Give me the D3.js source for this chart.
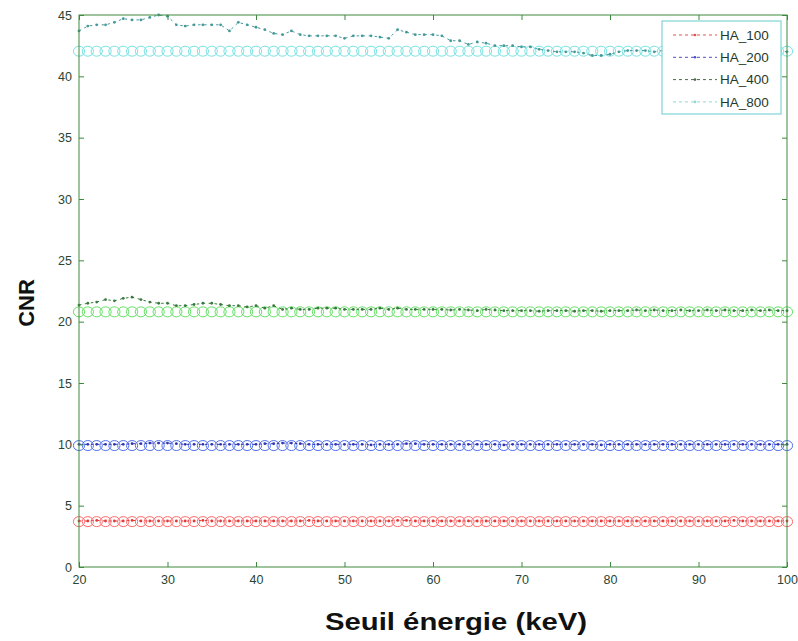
<!DOCTYPE html>
<html>
<head>
<meta charset="utf-8">
<script src="https://cdn.jsdelivr.net/npm/d3@7"></script>
<style>
  html, body { margin: 0; padding: 0; background: #fff; }
  svg { display: block; }
</style>
</head>
<body>
<svg id="chart" width="798" height="641"></svg>
<script>
// ---------------- DATA ----------------
const energies = [20,21,22,23,24,25,26,27,28,29,30,31,32,33,34,35,36,37,38,39,40,41,42,43,44,45,46,47,48,49,50,51,52,53,54,55,56,57,58,59,60,61,62,63,64,65,66,67,68,69,70,71,72,73,74,75,76,77,78,79,80,81,82,83,84,85,86,87,88,89,90,91,92,93,94,95,96,97,98,99,100];

// measured (dashed line with dots)
const ha800Line = [43.7,44.1,44.2,44.2,44.4,44.7,44.6,44.6,44.8,45.0,44.9,44.2,44.1,44.2,44.2,44.2,44.2,43.7,44.4,44.2,44.0,43.8,43.5,43.4,43.7,43.4,43.3,43.3,43.3,43.3,43.1,43.3,43.3,43.3,43.2,43.1,43.8,43.6,43.4,43.4,43.4,43.3,42.9,42.9,42.6,42.8,42.7,42.5,42.5,42.5,42.4,42.4,42.2,42.1,42.0,42.0,42.0,41.9,41.7,41.7,41.8,42.0,42.1,42.1,42.1,42.0,42.1,42.0,42.1,42.0,42.1,42.0,42.0,42.1,42.0,42.0,42.1,42.0,42.0,42.1,42.0];
const ha400Line = [21.35,21.5,21.6,21.8,21.7,21.9,22.0,21.8,21.6,21.5,21.5,21.3,21.3,21.4,21.5,21.5,21.4,21.3,21.3,21.2,21.3,21.1,21.3,21.0,21.1,21.0,21.0,21.1,21.1,21.1,21.0,21.0,21.0,21.0,21.1,21.0,21.1,21.0,21.0,21.0,21.0,21.0,20.95,21.0,20.95,20.9,21.0,20.95,20.9,20.9,20.9,20.9,20.85,20.9,20.9,20.9,20.85,20.9,20.9,20.85,20.9,20.9,20.9,20.95,20.9,20.95,20.9,20.9,20.95,20.9,20.9,20.95,20.9,20.95,20.9,20.9,20.95,20.9,20.95,20.9,20.9];
const ha200Line = [10.0,10.0,10.0,10.0,10.0,10.0,10.05,10.05,10.1,10.1,10.1,10.05,10.0,10.0,10.0,10.0,10.0,10.0,10.0,10.0,10.0,10.05,10.05,10.1,10.1,10.05,10.0,10.0,10.0,10.0,10.0,10.0,10.0,9.95,10.0,10.0,10.0,10.05,10.05,10.0,10.0,10.0,10.0,10.0,10.0,10.0,10.0,10.0,9.95,10.0,10.0,10.0,10.0,10.0,10.0,10.0,10.0,10.0,10.0,9.95,10.0,10.0,10.0,10.0,10.0,10.0,10.0,10.0,10.0,10.0,10.0,10.0,10.0,10.0,10.0,10.0,10.0,10.0,10.0,10.0,10.0];
const ha100Line = [3.75,3.75,3.8,3.75,3.75,3.75,3.8,3.75,3.75,3.75,3.75,3.75,3.75,3.75,3.8,3.75,3.75,3.75,3.75,3.75,3.75,3.75,3.75,3.75,3.75,3.75,3.8,3.75,3.75,3.75,3.75,3.75,3.75,3.75,3.75,3.75,3.8,3.8,3.75,3.75,3.75,3.75,3.75,3.75,3.75,3.75,3.75,3.75,3.75,3.75,3.75,3.75,3.75,3.75,3.75,3.75,3.75,3.75,3.75,3.75,3.75,3.75,3.75,3.75,3.75,3.75,3.75,3.75,3.75,3.75,3.75,3.75,3.75,3.75,3.8,3.75,3.75,3.75,3.75,3.75,3.75];

// simulated (open circles)
const ha800Circ = [42.05,42.05,42.05,42.05,42.05,42.05,42.05,42.05,42.05,42.05,42.05,42.05,42.05,42.05,42.05,42.05,42.05,42.05,42.05,42.05,42.05,42.05,42.05,42.05,42.05,42.05,42.05,42.05,42.05,42.05,42.05,42.05,42.05,42.05,42.05,42.05,42.05,42.05,42.05,42.05,42.05,42.05,42.05,42.05,42.05,42.05,42.05,42.05,42.05,42.05,42.05,42.05,42.05,42.05,42.05,42.05,42.05,42.05,42.05,42.05,42.05,42.05,42.05,42.05,42.05,42.05,42.05,42.05,42.05,42.05,42.05,42.05,42.05,42.05,42.05,42.05,42.05,42.05,42.05,42.05,42.05];
const ha400Circ = [20.8,20.8,20.8,20.8,20.8,20.8,20.8,20.8,20.8,20.8,20.8,20.8,20.8,20.8,20.8,20.8,20.8,20.8,20.8,20.8,20.8,20.8,20.8,20.8,20.8,20.8,20.8,20.8,20.8,20.8,20.8,20.8,20.8,20.8,20.8,20.8,20.8,20.8,20.8,20.8,20.8,20.8,20.8,20.8,20.8,20.8,20.8,20.8,20.8,20.8,20.8,20.8,20.8,20.8,20.8,20.8,20.8,20.8,20.8,20.8,20.8,20.8,20.8,20.8,20.8,20.8,20.8,20.8,20.8,20.8,20.8,20.8,20.8,20.8,20.8,20.8,20.8,20.8,20.8,20.8,20.8];
const ha200Circ = [9.9,9.9,9.9,9.9,9.9,9.9,9.9,9.9,9.9,9.9,9.9,9.9,9.9,9.9,9.9,9.9,9.9,9.9,9.9,9.9,9.9,9.9,9.9,9.9,9.9,9.9,9.9,9.9,9.9,9.9,9.9,9.9,9.9,9.9,9.9,9.9,9.9,9.9,9.9,9.9,9.9,9.9,9.9,9.9,9.9,9.9,9.9,9.9,9.9,9.9,9.9,9.9,9.9,9.9,9.9,9.9,9.9,9.9,9.9,9.9,9.9,9.9,9.9,9.9,9.9,9.9,9.9,9.9,9.9,9.9,9.9,9.9,9.9,9.9,9.9,9.9,9.9,9.9,9.9,9.9,9.9];
const ha100Circ = [3.7,3.7,3.7,3.7,3.7,3.7,3.7,3.7,3.7,3.7,3.7,3.7,3.7,3.7,3.7,3.7,3.7,3.7,3.7,3.7,3.7,3.7,3.7,3.7,3.7,3.7,3.7,3.7,3.7,3.7,3.7,3.7,3.7,3.7,3.7,3.7,3.7,3.7,3.7,3.7,3.7,3.7,3.7,3.7,3.7,3.7,3.7,3.7,3.7,3.7,3.7,3.7,3.7,3.7,3.7,3.7,3.7,3.7,3.7,3.7,3.7,3.7,3.7,3.7,3.7,3.7,3.7,3.7,3.7,3.7,3.7,3.7,3.7,3.7,3.7,3.7,3.7,3.7,3.7,3.7,3.7];

const seriesNames = ["HA_100","HA_200","HA_400","HA_800"];
const xTicks = [20,30,40,50,60,70,80,90,100];
const yTicks = [0,5,10,15,20,25,30,35,40,45];
const xTitle = "Seuil énergie (keV)";
const yTitle = "CNR";

// ---------------- STYLES ----------------
const lineColors   = {HA_100:"#e03a3a", HA_200:"#3434b0", HA_400:"#387a3e", HA_800:"#45999a"};
const circColors   = {HA_100:"#ff6a6a", HA_200:"#5070ec", HA_400:"#66e066", HA_800:"#78e2e2"};
const legendColors = {HA_100:"#e85050", HA_200:"#5050c8", HA_400:"#4a6a4a", HA_800:"#90d8d8"};
const frameColor = "#3f8a3f";
const textColor = "#2a4535";

const lineData = {HA_100:ha100Line, HA_200:ha200Line, HA_400:ha400Line, HA_800:ha800Line};
const circData = {HA_100:ha100Circ, HA_200:ha200Circ, HA_400:ha400Circ, HA_800:ha800Circ};

// ---------------- CHART ----------------
const svg = d3.select("#chart");
const L = 79, R = 787, T = 15, B = 567;
const x = d3.scaleLinear().domain([20,100]).range([L,R]);
const y = d3.scaleLinear().domain([0,45]).range([B,T]);

const plot = svg.append("g");

// circles (behind)
["HA_800","HA_400","HA_200","HA_100"].forEach(name => {
  plot.append("g").selectAll("ellipse")
    .data(energies.map((e,i)=>[e, circData[name][i]]))
    .join("ellipse")
    .attr("cx", d=>x(d[0])).attr("cy", d=>y(d[1]))
    .attr("rx", 5.6).attr("ry", 5.0)
    .attr("fill","none")
    .attr("stroke", circColors[name])
    .attr("stroke-width", 1);
});

// dashed lines with dots
const lineGen = d3.line().x(d=>x(d[0])).y(d=>y(d[1]));
["HA_800","HA_400","HA_200","HA_100"].forEach(name => {
  const pts = energies.map((e,i)=>[e, lineData[name][i]]);
  plot.append("path")
    .datum(pts)
    .attr("d", lineGen)
    .attr("fill","none")
    .attr("stroke", lineColors[name])
    .attr("stroke-width", 1)
    .attr("stroke-dasharray","2.5,3.5");
  plot.append("g").selectAll("circle")
    .data(pts)
    .join("circle")
    .attr("cx", d=>x(d[0])).attr("cy", d=>y(d[1]))
    .attr("r", 1.4)
    .attr("fill", lineColors[name]);
});

// axes (MATLAB style inward ticks)
function styleAxis(g){
  g.select(".domain").remove();
  g.selectAll(".tick line").attr("stroke", frameColor);
  g.selectAll(".tick text").attr("fill", textColor)
    .attr("font-family","Liberation Sans, Arial, sans-serif")
    .attr("font-size", 12.5);
}
svg.append("g").attr("transform",`translate(0,${B})`)
  .call(d3.axisBottom(x).tickValues(xTicks).tickSize(-5).tickPadding(8).tickFormat(d3.format("d")))
  .call(styleAxis);
svg.append("g").attr("transform",`translate(0,${T})`)
  .call(d3.axisTop(x).tickValues(xTicks).tickSize(-5).tickFormat(""))
  .call(styleAxis);
svg.append("g").attr("transform",`translate(${L},0)`)
  .call(d3.axisLeft(y).tickValues(yTicks).tickSize(-5).tickPadding(7).tickFormat(d3.format("d")))
  .call(styleAxis);
svg.append("g").attr("transform",`translate(${R},0)`)
  .call(d3.axisRight(y).tickValues(yTicks).tickSize(-5).tickFormat(""))
  .call(styleAxis);

svg.append("rect")
  .attr("x", L).attr("y", T).attr("width", R-L).attr("height", B-T)
  .attr("fill","none").attr("stroke", frameColor).attr("stroke-width",1);

// legend
const lg = svg.append("g");
lg.append("rect").attr("x",662).attr("y",21).attr("width",119).attr("height",93)
  .attr("fill","#fff").attr("stroke","#7fd4d4").attr("stroke-width",1.2);
seriesNames.forEach((name,i) => {
  const yy = 35 + i*22.3;
  lg.append("line").attr("x1",673).attr("x2",717).attr("y1",yy).attr("y2",yy)
    .attr("stroke", legendColors[name]).attr("stroke-width",1).attr("stroke-dasharray","3,3");
  lg.append("circle").attr("cx",695).attr("cy",yy).attr("r",1.3).attr("fill",legendColors[name]);
  lg.append("text").attr("x",720).attr("y",yy+4.8).text(name)
    .attr("font-family","Liberation Sans, Arial, sans-serif").attr("font-size",13.5)
    .attr("fill","#1f3a2c");
});

// axis titles
svg.append("text").attr("x", 456).attr("y", 630).attr("text-anchor","middle")
  .attr("font-family","Liberation Sans, Arial, sans-serif").attr("font-weight","bold")
  .attr("font-size",23).attr("fill","#111")
  .attr("textLength",262).attr("lengthAdjust","spacingAndGlyphs").text(xTitle);
svg.append("text").attr("transform","translate(34,303) rotate(-90)").attr("text-anchor","middle")
  .attr("font-family","Liberation Sans, Arial, sans-serif").attr("font-weight","bold")
  .attr("font-size",22).attr("fill","#111").text(yTitle);
</script>
</body>
</html>
